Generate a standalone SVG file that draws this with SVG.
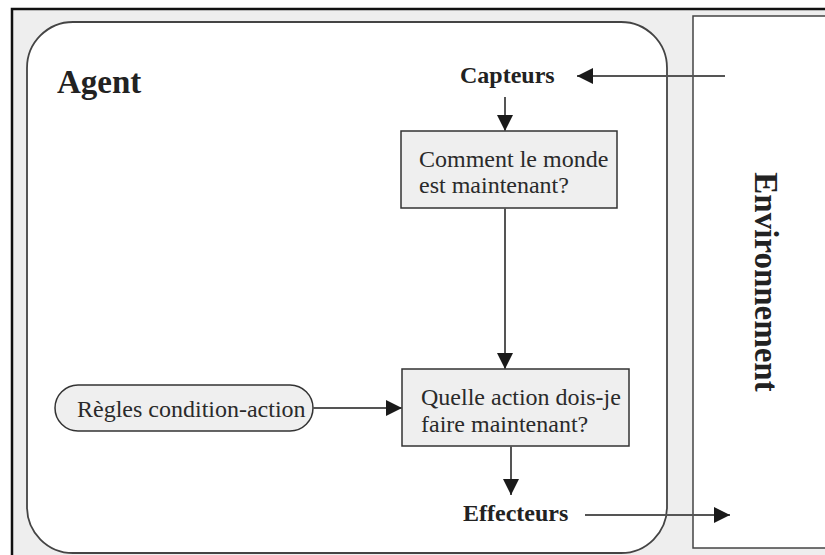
<svg xmlns="http://www.w3.org/2000/svg" width="825" height="555" viewBox="0 0 825 555">
<style>
.box{fill:#efefef;stroke:#333;stroke-width:1.5}
.bold{font-family:"Liberation Serif","Times New Roman",serif;font-weight:bold;fill:#222}
.reg{font-family:"Liberation Serif","Times New Roman",serif;font-size:24px;fill:#2a2a2a}
.conn{stroke:#555;stroke-width:2;fill:none;marker-end:url(#ah)}
</style>
<defs>
<marker id="ah" viewBox="0 0 10 10" refX="10" refY="5" markerWidth="8" markerHeight="8" markerUnits="strokeWidth" orient="auto">
<path d="M0,0 L10,5 L0,10 Z" fill="#1a1a1a"/>
</marker>
</defs>
<rect x="0" y="0" width="825" height="555" fill="#ffffff"/>
<rect id="frame" x="12" y="9" width="830" height="560" fill="#eeeeee" stroke="#111" stroke-width="2.5"/>
<g id="agent">
<rect x="27" y="22" width="640" height="531" rx="46" ry="46" fill="#ffffff" stroke="#444" stroke-width="1.8"/>
<text class="bold" x="57" y="93" font-size="33">Agent</text>
</g>
<g id="environnement">
<rect x="693" y="16" width="150" height="532" fill="#ffffff" stroke="#444" stroke-width="1.5"/>
<text class="bold" font-size="33" text-anchor="middle" transform="translate(755,282) rotate(90)">Environnement</text>
</g>
<g id="capteurs">
<text class="bold" x="460" y="83" font-size="24">Capteurs</text>
</g>
<g id="monde">
<rect class="box" x="401" y="131" width="216" height="77"/>
<text class="reg" x="419" y="167">Comment le monde</text>
<text class="reg" x="419" y="193">est maintenant?</text>
</g>
<g id="action">
<rect class="box" x="402" y="369" width="227" height="77"/>
<text class="reg" x="421" y="405">Quelle action dois-je</text>
<text class="reg" x="421" y="432">faire maintenant?</text>
</g>
<g id="regles">
<rect class="box" x="55" y="385" width="258" height="46" rx="23" ry="23"/>
<text class="reg" x="77" y="417">Règles condition-action</text>
</g>
<g id="effecteurs">
<text class="bold" x="463" y="521" font-size="24">Effecteurs</text>
</g>
<g id="connectors">
<line class="conn" x1="725" y1="76" x2="577" y2="76"/>
<line class="conn" x1="505" y1="97" x2="505" y2="131"/>
<line class="conn" x1="505" y1="208" x2="505" y2="369"/>
<line class="conn" x1="313" y1="408" x2="402" y2="408"/>
<line class="conn" x1="511" y1="446" x2="511" y2="495"/>
<line class="conn" x1="585" y1="515" x2="730" y2="515"/>
</g>
</svg>
